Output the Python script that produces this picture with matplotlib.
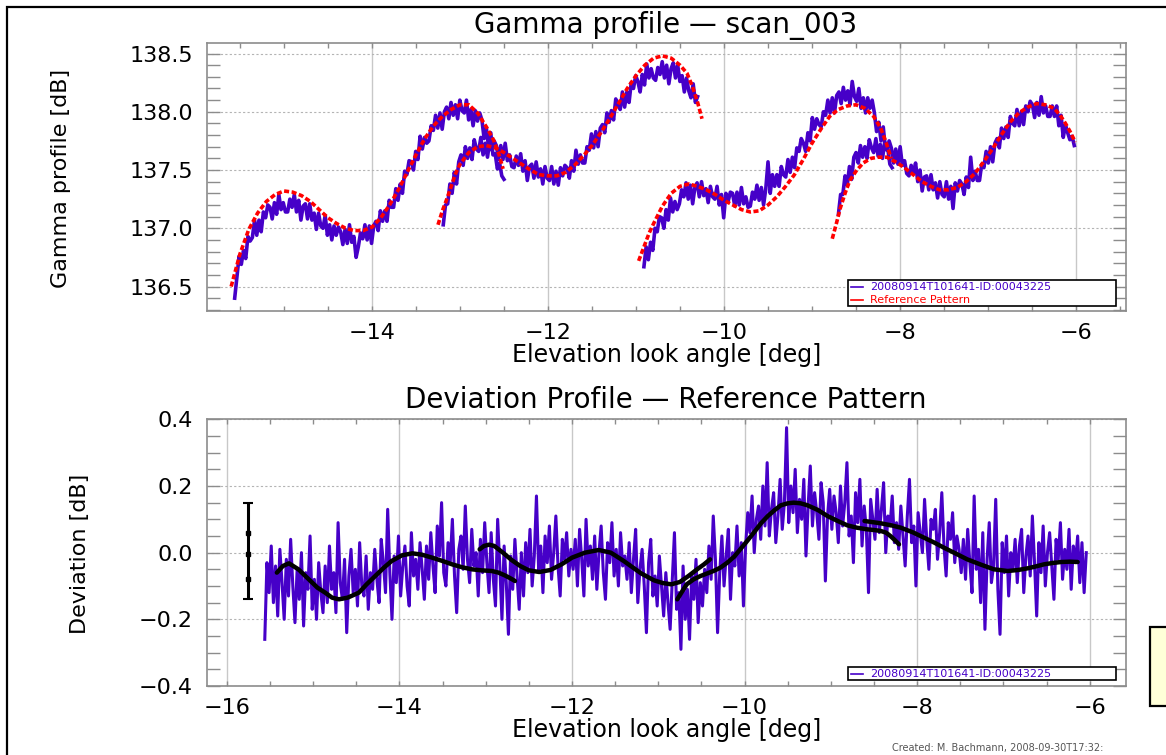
import numpy as np
import matplotlib
matplotlib.use('Agg')
import matplotlib.pyplot as plt
from matplotlib.patches import Rectangle
from matplotlib.lines import Line2D
from matplotlib.ticker import MultipleLocator, FuncFormatter

# ---- datos: perfil gamma (4 tramos de medida) ----
seg_start = [-15.56, -13.19, -10.91, -8.70]
seg_end = [-12.50, -10.30, -8.09, -6.02]

gamma_a = [136.40, 136.58, 136.76, 136.69, 136.81, 136.74, 136.93, 136.89,
           136.92, 137.07, 136.94, 137.07, 136.97, 137.14, 137.09, 137.20,
           137.18, 137.08, 137.22, 137.12, 137.29, 137.16, 137.22, 137.14,
           137.14, 137.25, 137.18, 137.29, 137.14, 137.24, 137.07, 137.19,
           137.21, 137.08, 137.21, 137.07, 137.13, 136.99, 137.13, 137.02,
           137.00, 137.11, 136.94, 137.03, 136.90, 137.02, 136.94, 137.01,
           136.97, 136.86, 136.99, 136.87, 137.03, 136.88, 136.93, 136.75,
           136.84, 136.96, 136.91, 137.03, 136.90, 137.02, 136.87, 137.02,
           137.06, 136.98, 137.15, 137.06, 137.15, 137.06, 137.24, 137.18,
           137.18, 137.34, 137.24, 137.38, 137.30, 137.49, 137.46, 137.58,
           137.57, 137.50, 137.66, 137.59, 137.79, 137.68, 137.78, 137.73,
           137.75, 137.88, 137.84, 137.97, 137.86, 137.99, 137.85, 138.00,
           138.04, 137.94, 138.08, 137.97, 138.06, 137.94, 138.10, 138.01,
           137.99, 138.10, 137.93, 138.02, 137.88, 138.01, 137.92, 137.99,
           137.93, 137.77, 137.86, 137.70, 137.82, 137.63, 137.64, 137.51,
           137.56, 137.45, 137.42]
gamma_b = [137.03, 137.20, 137.21, 137.38, 137.30, 137.48, 137.38, 137.57,
           137.63, 137.54, 137.70, 137.60, 137.69, 137.59, 137.76, 137.68,
           137.66, 137.78, 137.63, 137.73, 137.61, 137.75, 137.67, 137.75,
           137.71, 137.59, 137.71, 137.59, 137.73, 137.58, 137.63, 137.53,
           137.52, 137.62, 137.54, 137.64, 137.49, 137.58, 137.41, 137.53,
           137.55, 137.43, 137.57, 137.44, 137.51, 137.38, 137.53, 137.43,
           137.41, 137.53, 137.38, 137.49, 137.37, 137.52, 137.45, 137.54,
           137.52, 137.43, 137.58, 137.49, 137.67, 137.55, 137.63, 137.56,
           137.56, 137.70, 137.67, 137.81, 137.69, 137.83, 137.70, 137.86,
           137.89, 137.82, 137.99, 137.91, 138.01, 137.93, 138.11, 138.06,
           138.02, 138.17, 138.04, 138.17, 138.08, 138.25, 138.20, 138.31,
           138.26, 138.17, 138.32, 138.23, 138.41, 138.29, 138.37, 138.29,
           138.27, 138.38, 138.32, 138.43, 138.29, 138.40, 138.24, 138.37,
           138.42, 138.29, 138.40, 138.26, 138.31, 138.17, 138.29, 138.18,
           138.12, 138.24, 138.08, 138.13]
gamma_c = [136.67, 136.84, 136.73, 136.88, 136.81, 137.00, 136.97, 137.10,
           137.09, 137.00, 137.16, 137.07, 137.26, 137.14, 137.23, 137.16,
           137.21, 137.33, 137.27, 137.39, 137.25, 137.37, 137.21, 137.35,
           137.39, 137.27, 137.40, 137.28, 137.34, 137.22, 137.36, 137.27,
           137.25, 137.36, 137.20, 137.29, 137.09, 137.30, 137.23, 137.31,
           137.30, 137.19, 137.31, 137.20, 137.35, 137.21, 137.27, 137.18,
           137.19, 137.31, 137.25, 137.37, 137.24, 137.35, 137.20, 137.34,
           137.57, 137.30, 137.46, 137.36, 137.46, 137.36, 137.53, 137.46,
           137.44, 137.59, 137.48, 137.61, 137.52, 137.69, 137.66, 137.77,
           137.73, 137.66, 137.82, 137.75, 137.95, 137.85, 137.94, 137.89,
           137.87, 138.00, 137.97, 138.10, 137.99, 138.12, 137.99, 138.14,
           138.17, 138.07, 138.21, 138.10, 138.18, 138.06, 138.26, 138.13,
           138.09, 138.20, 138.03, 138.12, 137.99, 138.12, 138.03, 138.10,
           137.99, 137.83, 137.91, 137.75, 137.87, 137.68, 137.69, 137.55,
           137.52]
gamma_d = [137.12, 137.29, 137.29, 137.45, 137.37, 137.53, 137.42, 137.61,
           137.65, 137.56, 137.71, 137.61, 137.70, 137.60, 137.76, 137.69,
           137.65, 137.77, 137.62, 137.72, 137.60, 137.74, 137.67, 137.75,
           137.69, 137.56, 137.68, 137.55, 137.70, 137.54, 137.58, 137.47,
           137.45, 137.54, 137.47, 137.56, 137.40, 137.50, 137.32, 137.44,
           137.45, 137.33, 137.46, 137.33, 137.39, 137.26, 137.40, 137.29,
           137.27, 137.40, 137.25, 137.36, 137.17, 137.39, 137.32, 137.41,
           137.38, 137.29, 137.44, 137.35, 137.61, 137.41, 137.49, 137.41,
           137.41, 137.55, 137.52, 137.66, 137.56, 137.70, 137.57, 137.73,
           137.77, 137.69, 137.86, 137.77, 137.87, 137.78, 137.96, 137.90,
           137.88, 138.02, 137.88, 138.00, 137.89, 138.05, 138.00, 138.09,
           138.06, 137.95, 138.08, 137.97, 138.13, 137.99, 138.05, 137.96,
           137.96, 138.05, 137.96, 138.05, 137.88, 137.97, 137.78, 137.89,
           137.82, 137.76, 137.79, 137.71]

# ---- patron de referencia (4 tramos) ----
ref_a_x = [-15.60, -15.50, -15.40, -15.30, -15.20, -15.10, -15.00, -14.90, -14.80, -14.70, -14.60,
           -14.50, -14.40, -14.30, -14.20, -14.10, -14.00, -13.90, -13.80, -13.70, -13.60, -13.50,
           -13.40, -13.30, -13.20, -13.10, -13.00, -12.90, -12.80, -12.70, -12.62, -12.56, -12.51]
ref_a_y = [136.50, 136.78, 136.99, 137.13, 137.23, 137.29, 137.32, 137.31, 137.28, 137.23, 137.16,
           137.09, 137.04, 137.00, 136.98, 136.98, 137.01, 137.09, 137.20, 137.33, 137.48, 137.63,
           137.77, 137.88, 137.96, 138.02, 138.06, 138.06, 137.99, 137.87, 137.76, 137.64, 137.51]
ref_b_x = [-13.25, -13.20, -13.15, -13.10, -13.05, -13.00, -12.90, -12.80, -12.70, -12.60, -12.50,
           -12.40, -12.30, -12.20, -12.10, -12.00, -11.90, -11.80, -11.70, -11.60, -11.50, -11.40,
           -11.30, -11.20, -11.10, -11.00, -10.90, -10.80, -10.70, -10.60, -10.50, -10.42, -10.36,
           -10.30, -10.25]
ref_b_y = [137.03, 137.15, 137.25, 137.36, 137.47, 137.55, 137.65, 137.70, 137.71, 137.69, 137.65,
           137.60, 137.55, 137.50, 137.46, 137.45, 137.45, 137.48, 137.54, 137.62, 137.71, 137.82,
           137.94, 138.07, 138.20, 138.31, 138.40, 138.46, 138.48, 138.46, 138.40, 138.33, 138.22,
           138.08, 137.94]
ref_c_x = [-10.97, -10.90, -10.85, -10.80, -10.70, -10.60, -10.50, -10.40, -10.30, -10.20, -10.10,
           -10.00, -9.90, -9.80, -9.70, -9.60, -9.50, -9.40, -9.30, -9.20, -9.10, -9.00, -8.90,
           -8.80, -8.70, -8.60, -8.50, -8.40, -8.30, -8.22, -8.16, -8.10]
ref_c_y = [136.72, 136.86, 136.96, 137.04, 137.19, 137.30, 137.36, 137.38, 137.36, 137.33, 137.29,
           137.24, 137.20, 137.16, 137.14, 137.15, 137.20, 137.27, 137.36, 137.46, 137.59, 137.73,
           137.85, 137.96, 138.02, 138.05, 138.06, 138.03, 137.96, 137.86, 137.74, 137.60]
ref_d_x = [-8.77, -8.72, -8.68, -8.62, -8.57, -8.50, -8.42, -8.33, -8.25, -8.15, -8.05, -7.95,
           -7.85, -7.75, -7.65, -7.55, -7.45, -7.35, -7.25, -7.15, -7.05, -6.95, -6.85, -6.75,
           -6.65, -6.55, -6.45, -6.35, -6.25, -6.18, -6.12, -6.06, -6.01]
ref_d_y = [136.91, 137.05, 137.17, 137.31, 137.41, 137.49, 137.56, 137.60, 137.61, 137.61, 137.57,
           137.52, 137.46, 137.40, 137.36, 137.33, 137.33, 137.35, 137.40, 137.47, 137.57, 137.68,
           137.80, 137.91, 137.99, 138.04, 138.07, 138.06, 138.03, 137.97, 137.90, 137.82, 137.74]

# ---- desviacion respecto al patron ----
dev_start, dev_end = -15.56, -6.04
deviation = [
    -0.26, -0.03, -0.12, 0.02, -0.15, -0.04, -0.19, 0.01, -0.09, -0.2, -0.02, -0.13, 0.04, -0.1,
    -0.21, -0.05, -0.14, 0.0, -0.22, -0.06, -0.11, 0.05, -0.17, -0.08, -0.2, -0.03, -0.12, -0.18,
    -0.04, -0.15, 0.02, -0.11, -0.06, -0.18, 0.09, -0.09, -0.14, -0.02, -0.24, -0.07, 0.01, -0.12,
    -0.05, -0.16, 0.03, -0.1, -0.13, -0.01, -0.17, -0.06,
    -0.11, 0.01, -0.08, -0.15, 0.04, -0.03, -0.12, 0.13, -0.06, -0.2, -0.01, -0.09, 0.05, -0.13,
    -0.04, 0.02, -0.1, -0.16, 0.06, -0.07, -0.02, -0.11, 0.03, -0.05, -0.14,
    0.02, -0.08, 0.06, -0.04, -0.12, 0.08, -0.01, 0.15, -0.06, -0.1, 0.03, -0.03, 0.1, -0.07,
    -0.18, 0.01, 0.05, -0.05, 0.14, -0.02, -0.09, 0.07, -0.04, 0.0, -0.13, 0.04, -0.06, 0.09,
    -0.03, -0.12, 0.06, -0.08, -0.16, 0.1, -0.04, -0.2, 0.02, -0.09, -0.245, -0.01, -0.11, 0.04,
    -0.07, -0.17, 0.0, -0.13,
    0.03, -0.06, 0.07, -0.1, -0.01, 0.17, -0.05, 0.02, -0.12, 0.05, -0.03, 0.08, -0.08, 0.0,
    0.11, -0.04, -0.13, 0.04, -0.02, 0.06, -0.07, 0.01,
    -0.05, 0.04, -0.1, 0.07, -0.02, -0.13, 0.1, -0.04, 0.02, -0.08, 0.05, -0.11, 0.0, 0.08,
    -0.06, -0.14, 0.03, -0.03, 0.09, -0.07, 0.01, -0.1, 0.06, -0.04, -0.01,
    -0.08, 0.03, -0.12, -0.02, 0.07, -0.15, -0.05, 0.01, -0.1, -0.24, -0.03, 0.04, -0.13, -0.07,
    -0.16, -0.01,
    -0.1, -0.19, -0.06, -0.15, -0.23, -0.08, 0.06, -0.17, -0.12, -0.29, -0.04, -0.2, -0.11, -0.26,
    -0.07, -0.14, -0.02, -0.21, -0.09, -0.16,
    -0.05, -0.12, 0.02, -0.08, 0.11, -0.02, -0.24, -0.06, 0.05, -0.1, -0.01, 0.07, -0.14, 0.0,
    -0.04, 0.08, -0.07, 0.03, -0.16,
    0.02, 0.12, 0.06, 0.17, 0.0, 0.1, 0.14, 0.04, 0.2, 0.08, 0.27, 0.05, 0.13, 0.18, 0.03, 0.11,
    0.22, 0.07, 0.15, 0.375,
    0.09, 0.2, 0.12, 0.25, 0.06, 0.16, 0.1, 0.22, -0.01, 0.14, 0.26, 0.08, 0.18, 0.12, 0.04, 0.21,
    0.15, -0.085, 0.11, 0.19, 0.07, 0.17,
    0.12, 0.03, 0.2, 0.08, 0.15, 0.27, 0.05, 0.11, -0.03, 0.18, 0.09, 0.22, 0.02, 0.14, 0.07,
    -0.12, 0.16, 0.1, 0.04, 0.19, 0.06, 0.13, 0.21, 0.0, 0.11, 0.08, 0.17, 0.03,
    0.09, 0.01, 0.14, 0.05, -0.04, 0.11, 0.22, 0.03, 0.08, -0.1, 0.12, 0.06, 0.0, 0.16, 0.04,
    -0.05, 0.1, 0.07, 0.13, -0.02, 0.06, 0.18, 0.02, -0.07, 0.09, 0.04, 0.12, -0.03, 0.05, 0.01,
    -0.06,
    0.04, -0.08, 0.07, -0.03, -0.12, 0.17, -0.05, 0.01, -0.15, 0.06, -0.23, -0.02, 0.09, -0.09,
    -0.04, 0.16, -0.11, -0.245, 0.03, -0.06, 0.05, -0.13, 0.0,
    -0.05, 0.04, -0.09, 0.02, 0.07, -0.12, -0.01, 0.05, -0.07, 0.11, -0.03, -0.19, 0.03, -0.06,
    0.08, -0.1, 0.0, 0.06, -0.04, -0.14, 0.04, -0.02, 0.09, -0.08, 0.01, -0.05, 0.07, -0.11, 0.02,
    -0.03, 0.05, -0.09, 0.03, -0.12, 0.0]

# ---- ajustes suavizados de la desviacion ----
fit1_x = [-15.42, -15.35, -15.28, -15.17, -15.05, -14.95, -14.86, -14.78, -14.70, -14.60, -14.47,
          -14.38, -14.28, -14.18, -14.09, -13.97, -13.85, -13.74, -13.62, -13.50, -13.39, -13.27,
          -13.16, -13.05, -12.93, -12.85, -12.78, -12.72, -12.66]
fit1_y = [-0.060, -0.040, -0.032, -0.050, -0.080, -0.105, -0.120, -0.135, -0.140, -0.135, -0.120,
          -0.095, -0.070, -0.045, -0.025, -0.008, -0.002, -0.006, -0.015, -0.025, -0.035, -0.044,
          -0.050, -0.053, -0.055, -0.060, -0.068, -0.076, -0.085]
fit2_x = [-13.07, -13.02, -12.96, -12.90, -12.80, -12.70, -12.60, -12.50, -12.38, -12.25, -12.12,
          -12.00, -11.85, -11.69, -11.55, -11.40, -11.20, -11.05, -10.95, -10.85, -10.75, -10.65,
          -10.55, -10.47, -10.40]
fit2_y = [0.010, 0.020, 0.024, 0.020, 0.000, -0.022, -0.040, -0.053, -0.058, -0.052, -0.035,
          -0.015, 0.000, 0.008, 0.000, -0.025, -0.062, -0.083, -0.091, -0.095, -0.088, -0.070,
          -0.050, -0.035, -0.020]
fit3_x = [-10.78, -10.72, -10.67, -10.59, -10.51, -10.43, -10.36, -10.28, -10.20, -10.12, -10.05,
          -9.97, -9.89, -9.81, -9.73, -9.65, -9.58, -9.50, -9.43, -9.35, -9.27, -9.15, -9.04,
          -8.92, -8.81, -8.70, -8.58, -8.50, -8.42, -8.36, -8.31, -8.26, -8.21]
fit3_y = [-0.140, -0.115, -0.095, -0.080, -0.070, -0.062, -0.055, -0.045, -0.030, -0.012, 0.010,
          0.035, 0.061, 0.088, 0.110, 0.128, 0.142, 0.148, 0.150, 0.148, 0.142, 0.128, 0.110,
          0.095, 0.082, 0.075, 0.070, 0.068, 0.065, 0.060, 0.050, 0.038, 0.025]
fit4_x = [-8.61, -8.50, -8.42, -8.30, -8.19, -8.05, -7.92, -7.80, -7.69, -7.55, -7.42, -7.26,
          -7.11, -6.95, -6.83, -6.72, -6.62, -6.53, -6.43, -6.33, -6.23, -6.14]
fit4_y = [0.095, 0.091, 0.088, 0.082, 0.075, 0.061, 0.045, 0.030, 0.015, -0.003, -0.020, -0.036,
          -0.050, -0.055, -0.052, -0.047, -0.041, -0.035, -0.031, -0.028, -0.027, -0.028]

# barra de error (dispersion)
err_x = -15.76
err_lo, err_hi = -0.14, 0.15
err_marks = [0.058, -0.005, -0.078]

label_scan = '20080914T101641-ID:00043225'
purple = '#4600c8'
gray = '#8c8c8c'


def minus(v, pos):
    return ('%.1f' % v).replace('-', '\u2212')


def style(ax, ymaj, ymin):
    for s in ax.spines.values():
        s.set_color(gray)
        s.set_linewidth(1.2)
    ax.xaxis.set_major_locator(MultipleLocator(2))
    ax.xaxis.set_minor_locator(MultipleLocator(0.5))
    ax.yaxis.set_major_locator(MultipleLocator(ymaj))
    ax.yaxis.set_minor_locator(MultipleLocator(ymin))
    ax.yaxis.set_major_formatter(FuncFormatter(minus))
    ax.xaxis.set_major_formatter(FuncFormatter(lambda v, p: ('%d' % v).replace('-', '\u2212')))
    ax.tick_params(which='both', direction='in', top=True, right=True, color=gray, labelsize=16)
    ax.tick_params(axis='y', which='both', length=9.5, width=1, pad=10)
    ax.tick_params(axis='x', which='both', length=3.5, width=1, pad=9)
    ax.grid(axis='y', which='major', color='#b4b4b4', ls=(0, (2, 2)), lw=0.8)
    ax.grid(axis='x', which='major', color='#c8c8c8', ls='-', lw=1.0)
    ax.set_axisbelow(True)


fig = plt.figure(figsize=(11.66, 7.55), dpi=100)
ax1 = fig.add_axes([0.1775, 0.5881, 0.7878, 0.3549])
ax2 = fig.add_axes([0.1775, 0.0914, 0.7878, 0.3532])

# ---- grafico superior ----
for x0, x1, vals in zip(seg_start, seg_end, [gamma_a, gamma_b, gamma_c, gamma_d]):
    ax1.plot(np.linspace(x0, x1, len(vals)), vals, color=purple, lw=2.6)
for rx, ry in [(ref_a_x, ref_a_y), (ref_b_x, ref_b_y), (ref_c_x, ref_c_y), (ref_d_x, ref_d_y)]:
    ax1.plot(rx, ry, color='red', lw=2.6, ls=(0, (1.4, 0.7)))
ax1.set_xlim(-15.875, -5.4375)
ax1.set_ylim(136.29, 138.59)
style(ax1, 0.5, 0.1)
ax1.set_xlabel('Elevation look angle [deg]', fontsize=17)
ax1.xaxis.set_label_coords(0.5, -0.165)
ax1.xaxis.label.set_va('center')
ax1.set_ylabel('Gamma profile [dB]', fontsize=16)
ax1.yaxis.set_label_coords(-0.159, 0.493)
ax1.yaxis.label.set_va('center')

# leyenda superior
ax1.add_patch(Rectangle((0.6979, 0.0168), 0.2912, 0.0971, transform=ax1.transAxes,
                        facecolor='white', edgecolor='black', lw=1.2, zorder=5))
ax1.add_line(Line2D([0.701, 0.714], [0.0897, 0.0897], transform=ax1.transAxes, color=purple,
                    lw=1.2, zorder=6))
ax1.add_line(Line2D([0.701, 0.714], [0.0411, 0.0411], transform=ax1.transAxes, color='red',
                    lw=1.2, zorder=6))
ax1.text(0.722, 0.0897, label_scan, transform=ax1.transAxes, color=purple, fontsize=8,
         va='center', zorder=6)
ax1.text(0.722, 0.0411, 'Reference Pattern', transform=ax1.transAxes, color='red', fontsize=8,
         va='center', zorder=6)

# ---- grafico inferior ----
ax2.plot(np.linspace(dev_start, dev_end, len(deviation)), deviation, color=purple, lw=2.2)
for fx, fy in [(fit1_x, fit1_y), (fit2_x, fit2_y), (fit3_x, fit3_y), (fit4_x, fit4_y)]:
    ax2.plot(fx, fy, color='black', lw=3.2, solid_capstyle='round')
ax2.errorbar([err_x], [(err_lo + err_hi) / 2], yerr=[[(err_hi - err_lo) / 2]], color='black',
             lw=2.2, capsize=3.5, capthick=1.5)
ax2.plot([err_x] * 3, err_marks, 's', color='black', ms=3.5)
ax2.set_xlim(-16.23, -5.585)
ax2.set_ylim(-0.4, 0.4)
style(ax2, 0.2, 0.05)
ax2.set_xlabel('Elevation look angle [deg]', fontsize=17)
ax2.xaxis.set_label_coords(0.5, -0.165)
ax2.xaxis.label.set_va('center')
ax2.set_ylabel('Deviation [dB]', fontsize=16)
ax2.yaxis.set_label_coords(-0.138, 0.497)
ax2.yaxis.label.set_va('center')

ax2.add_patch(Rectangle((0.6979, 0.0225), 0.2912, 0.0476, transform=ax2.transAxes,
                        facecolor='white', edgecolor='black', lw=1.2, zorder=5))
ax2.add_line(Line2D([0.701, 0.714], [0.046, 0.046], transform=ax2.transAxes, color=purple,
                    lw=1.2, zorder=6))
ax2.text(0.722, 0.046, label_scan, transform=ax2.transAxes, color=purple, fontsize=8,
         va='center', zorder=6)

# titulos
fig.text(0.571, 1 - 25 / 755, 'Gamma profile \u2014 scan_003', fontsize=20, ha='center', va='center')
fig.text(0.571, 1 - 400 / 755, 'Deviation Profile \u2014 Reference Pattern', fontsize=20,
         ha='center', va='center')

# marco y recuadros de la pagina
fig.add_artist(Rectangle((7 / 1166, -0.2), 1.2, 1.2 - 7 / 755, transform=fig.transFigure,
                         fill=False, edgecolor='black', lw=1.6))
fig.add_artist(Rectangle((1150 / 1166, 1 - 706 / 755), 0.1, 79 / 755, transform=fig.transFigure,
                         facecolor='#ffffd8', edgecolor='black', lw=1.6))
fig.text(892 / 1166, 1 - 748 / 755, 'Created: M. Bachmann, 2008-09-30T17:32:', fontsize=7,
         color='#555555', va='center')

fig.savefig('out.png', dpi=100)
